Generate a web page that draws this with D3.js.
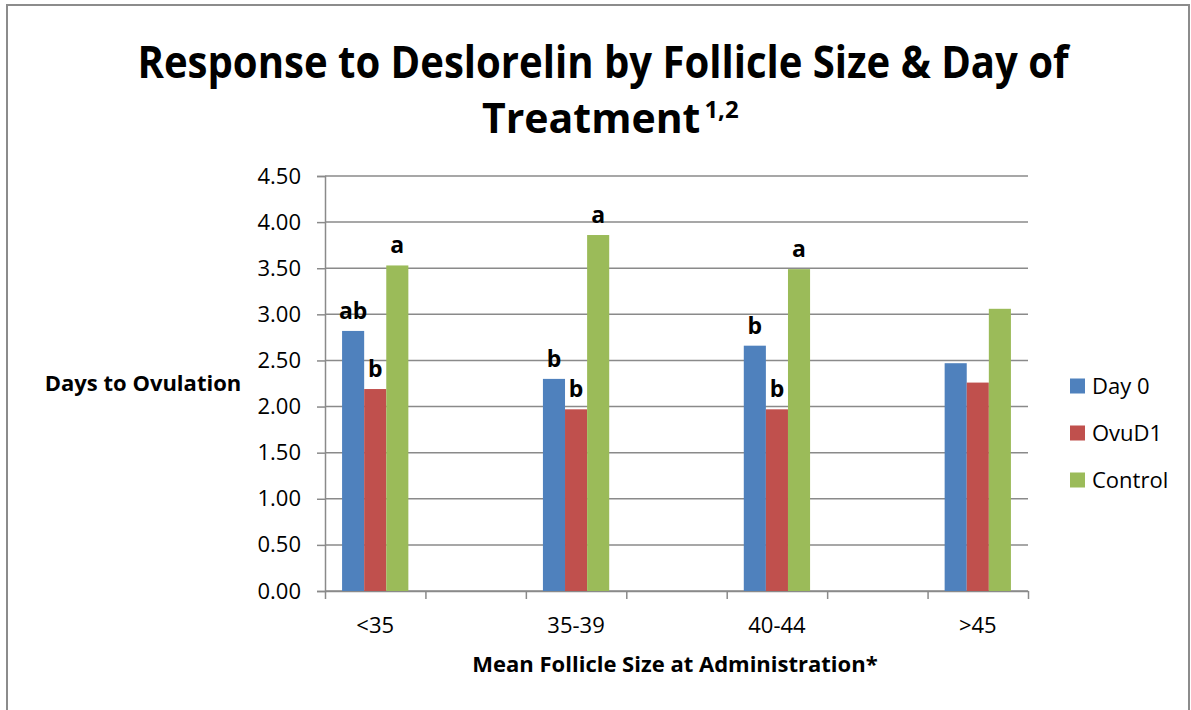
<!DOCTYPE html>
<html>
<head>
<meta charset="utf-8">
<script src="https://cdn.jsdelivr.net/npm/d3@7"></script>
<style>
  body { margin: 0; background: #fff; }
  text { font-family: "Open Sans", sans-serif; fill: #000; }
</style>
</head>
<body>
<svg id="chart" width="1191" height="710"></svg>
<script>

var categories = ["<35", "35-39", "40-44", ">45"];
var series = ["Day 0", "OvuD1", "Control"];
var colors = ["#4F81BD", "#C0504D", "#9BBB59"];

var day0 = [2.82, 2.30, 2.66, 2.47];
var ovuD1 = [2.19, 1.97, 1.97, 2.26];
var control = [3.53, 3.86, 3.49, 3.06];

// significance letters over each bar
var day0Sig = ["ab", "b", "b", ""];
var ovuD1Sig = ["b", "b", "b", ""];
var controlSig = ["a", "a", "a", ""];

var yTicks = [0, 0.5, 1, 1.5, 2, 2.5, 3, 3.5, 4, 4.5];

var values = [day0, ovuD1, control];
var sigs = [day0Sig, ovuD1Sig, controlSig];

var margin = {top: 176, right: 163, bottom: 119, left: 325},
width = 1191 - margin.left - margin.right,
height = 710 - margin.top - margin.bottom;

var svg = d3.select("#chart");

// outer chart border
svg.append("rect")
.attr("x", 7)
.attr("y", 5)
.attr("width", 1182)
.attr("height", 720)
.attr("fill", "none")
.attr("stroke", "#8c8c8c")
.attr("stroke-width", 2);

// each category sits in every other slot, empty slots between
var nSlots = categories.length * 2 - 1;
var x = d3.scaleLinear()
.domain([0, nSlots])
.range([0, width]);

var slotW = x(1) - x(0);
var x1 = d3.scaleBand()
.domain(series)
.range([-slotW * 0.33, slotW * 0.33]);

var y = d3.scaleLinear()
.domain([0, 4.5])
.range([height, 0]);

var g = svg.append("g")
.attr("transform", "translate(" + margin.left + "," + margin.top + ")");

// gridlines
g.append("g")
.selectAll("line")
.data(yTicks)
.enter().append("line")
.attr("x1", 0)
.attr("x2", width)
.attr("y1", function(d) { return y(d); })
.attr("y2", function(d) { return y(d); })
.attr("stroke", "#8a8a8a")
.attr("stroke-width", 1.5);

var yAxis = g.append("g")
.call(d3.axisLeft(y)
    .tickValues(yTicks)
    .tickSize(8)
    .tickPadding(16)
    .tickFormat(d3.format(".2f")));
yAxis.select(".domain").attr("stroke", "#8a8a8a").attr("stroke-width", 1.5);
yAxis.selectAll(".tick line").attr("stroke", "#8a8a8a").attr("stroke-width", 1.5);
yAxis.selectAll("text")
.style("font-size", "22px")
.attr("fill", "#000");

var xAxis = g.append("g")
.attr("transform", "translate(0," + height + ")")
.call(d3.axisBottom(x)
    .tickValues(d3.range(nSlots + 1))
    .tickSize(8)
    .tickSizeOuter(0)
    .tickFormat(function() { return ""; }));
xAxis.select(".domain").attr("stroke", "#8a8a8a").attr("stroke-width", 1.5);
xAxis.selectAll(".tick line").attr("stroke", "#8a8a8a").attr("stroke-width", 1.5);

// category labels
g.append("g")
.selectAll("text")
.data(categories)
.enter().append("text")
.attr("x", function(d, i) { return x(i * 2 + 0.5); })
.attr("y", height + 42)
.attr("text-anchor", "middle")
.style("font-size", "22px")
.text(function(d) { return d; });

// bars
var groups = g.selectAll(".series")
.data(series)
.enter().append("g")
.attr("class", "series");

function rows(s, si) {
    return categories.map(function(c, ci) {
        return {s: s, si: si, ci: ci, v: values[si][ci], sig: sigs[si][ci]};
    });
}

groups.selectAll("rect")
.data(rows)
.enter().append("rect")
.attr("x", function(d) { return x(d.ci * 2 + 0.5) + x1(d.s); })
.attr("y", function(d) { return y(d.v); })
.attr("width", x1.bandwidth())
.attr("height", function(d) { return height - y(d.v); })
.attr("fill", function(d) { return colors[d.si]; });

groups.selectAll(".sig")
.data(rows)
.enter().append("text")
.attr("class", "sig")
.attr("x", function(d) { return x(d.ci * 2 + 0.5) + x1(d.s) + x1.bandwidth() / 2; })
.attr("y", function(d) { return y(d.v) - 12; })
.attr("text-anchor", "middle")
.style("font-size", "23px")
.style("font-weight", "bold")
.text(function(d) { return d.sig; });

// legend
var legend = svg.append("g")
.selectAll("g")
.data(series)
.enter().append("g")
.attr("transform", function(d, i) { return "translate(1070," + (386 + i * 47) + ")"; });

legend.append("rect")
.attr("x", 0)
.attr("y", -7.5)
.attr("width", 15)
.attr("height", 15)
.attr("fill", function(d, i) { return colors[i]; });

legend.append("text")
.attr("x", 22)
.attr("y", 8)
.style("font-size", "22px")
.text(function(d) { return d; });

// titles
svg.append("text")
.attr("x", 603)
.attr("y", 78)
.attr("text-anchor", "middle")
.attr("textLength", 931)
.attr("lengthAdjust", "spacingAndGlyphs")
.style("font-size", "45px")
.style("font-weight", "bold")
.text("Response to Deslorelin by Follicle Size & Day of");

var t2 = svg.append("text")
.attr("x", 482)
.attr("y", 133)
.style("font-weight", "bold");
t2.append("tspan")
.style("font-size", "41px")
.text("Treatment");
t2.append("tspan")
.attr("dx", 4)
.attr("dy", -15)
.style("font-size", "24px")
.text("1,2");

svg.append("text")
.attr("x", 143)
.attr("y", 391)
.attr("text-anchor", "middle")
.style("font-size", "22px")
.style("font-weight", "bold")
.text("Days to Ovulation");

svg.append("text")
.attr("x", 675)
.attr("y", 672)
.attr("text-anchor", "middle")
.style("font-size", "22px")
.style("font-weight", "bold")
.text("Mean Follicle Size at Administration*");

</script>
</body>
</html>
